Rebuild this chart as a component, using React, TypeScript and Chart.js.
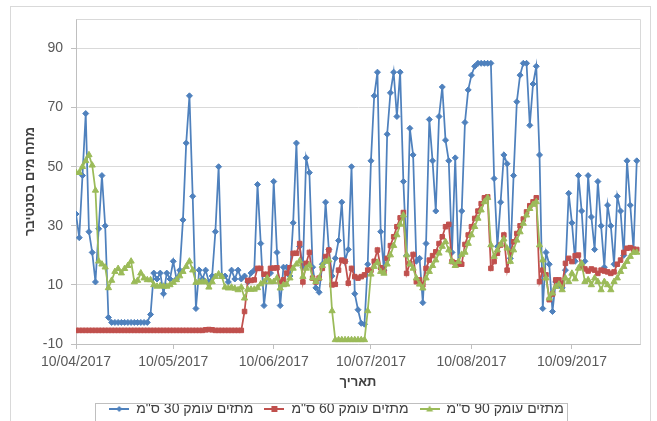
import React, { useEffect, useRef } from 'react';
import { Chart, registerables } from 'chart.js';

Chart.register(...registerables);

// ---- data ----
const START_DATE = '10/04/2017';
const AXIS_END_DATE = '01/10/2017';
const tickLabels = ['10/04/2017', '10/05/2017', '10/06/2017', '10/07/2017', '10/08/2017', '10/09/2017'];
const yTicks = [-10, 10, 30, 50, 70, 90];
const seriesNames = ['מתזים עומק 30 ס"מ', 'מתזים עומק 60 ס"מ', 'מתזים עומק 90 ס"מ'];
const xTitle = 'תאריך';
const yTitle = 'מתח מים בסנטיבר';

// daily readings starting 10/04/2017
const depth30 = [
  34, 26, 47, 68, 28, 21, 11, 29, 47, 30,
  -1, -2.7, -2.7, -2.7, -2.7, -2.7, -2.7, -2.7, -2.7, -2.7,
  -2.7, -2.7, -2.7, 0, 14, 12, 14, 7, 14, 12,
  18, 12, 15, 32, 58, 74, 40, 2, 15, 12,
  15, 11, 13, 28, 50, 13, 13, 11, 15, 12,
  15, 12, 13, 11, 14, 15, 44, 24, 3, 13,
  14, 45, 21, 3, 16, 16, 13, 31, 58, 23,
  16, 53, 48, 16, 9, 7.5, 17, 38, 22, 13,
  19, 25, 38, 18, 22, 50, 7, 1.6, -3, -3.3,
  17, 52, 74, 82, 28, 15, 61, 75, 82, 67,
  82, 45, 20, 63, 54, 18, 19, 4, 24, 66,
  52, 35, 67, 77, 59, 52, 21, 53, 17, 35,
  65, 76, 81, 84, 85, 85, 85, 85, 85, 46,
  23, 38, 54, 51, 19, 47, 72, 81, 85, 85,
  64, 78, 84, 54, 2, 21, 17, 1, 11, 10,
  9, 15, 41, 31, 18, 47, 35, 18, 47, 33,
  22, 45, 30, 16, 37, 30, 17, 40, 35, 20,
  52, 37, 22, 52,
];

const depth60 = [
  -5.4, -5.4, -5.4, -5.4, -5.4, -5.4, -5.4, -5.4, -5.4, -5.4,
  -5.4, -5.4, -5.4, -5.4, -5.4, -5.4, -5.4, -5.4, -5.4, -5.4,
  -5.4, -5.4, -5.4, -5.4, -5.4, -5.4, -5.4, -5.4, -5.4, -5.4,
  -5.4, -5.4, -5.4, -5.4, -5.4, -5.4, -5.4, -5.4, -5.4, -5.4,
  -5.2, -5.1, -5.2, -5.4, -5.4, -5.4, -5.4, -5.4, -5.4, -5.4,
  -5.4, -5.4, 1, 11.5, 11.5, 11.7, 15.6, 15.6, 13.6, 13.6,
  15.6, 15.7, 15.8, 11, 11.7, 14, 15.8, 20.7, 20.7, 24,
  11, 17.3, 21, 12.3, 11, 12.3, 15.6, 19.6, 21.8, 10,
  10.2, 15, 18.4, 18, 10.6, 15.6, 12.8, 12.3, 12.8, 13.4,
  15, 15, 18, 21.8, 15.8, 14.5, 19, 23.3, 26.3, 29.7,
  32.7, 34.5, 13.9, 17.3, 20.3, 11.1, 11.7, 10, 15.6, 18.4,
  19.9, 21.2, 24, 26.3, 29.7, 30.5, 17.9, 17.5, 17, 17,
  23.7, 26.9, 29.7, 32.5, 35, 37.5, 39.5, 39.8, 15.6, 17.9,
  20.7, 23.5, 26.9, 15, 21, 24.6, 27.4, 30, 32.3, 34.7,
  36.8, 38.1, 39.5, 11.1, 15, 13.4, 5, 6.9, 11.7, 11.7,
  10.2, 17.3, 19, 17.9, 19.9, 20.1, 16.2, 15.4, 14.7, 15.4,
  15, 13.9, 15, 14.7, 14.4, 13.9, 14.4, 17, 18.4, 21,
  22.4, 22.6, 22.1, 22,
];

const depth90 = [
  48, 48, 50, 52, 54, 50.5, 42, 18, 17, 16,
  9, 11.5, 14.5, 15.5, 14, 15.5, 16.5, 18, 11, 11.5,
  14, 12.3, 11.7, 11.7, 10, 9.5, 9.7, 9.5, 9.5, 10,
  10.8, 11.7, 13, 14.5, 16.2, 18, 15, 10.8, 11, 11,
  11, 9.2, 11, 12.8, 13.7, 12.8, 9.2, 8.9, 9.2, 8.8,
  8.3, 9.2, 5.5, 8.5, 8.5, 8.5, 9, 10.3, 11, 12.3,
  11, 11.1, 12.3, 8.9, 10, 10.2, 12.3, 15.6, 17, 18.1,
  12.8, 15.6, 16.7, 12.3, 11.1, 12.3, 16.5, 17.9, 18.4, 1.2,
  -8.6, -8.6, -8.6, -8.6, -8.6, -8.6, -8.6, -8.6, -8.6, -8.6,
  1.2, 13.6, 16.2, 17.6, 14.5, 13.9, 17, 20.1, 23.3, 26.9,
  30.5, 33.6, 20.1, 17, 15.6, 12.3, 10.2, 8.9, 12.3, 14.5,
  16.5, 18.4, 20.7, 23, 24.6, 21.8, 17.9, 16.5, 17.9, 20.3,
  21, 24, 26.9, 29.7, 32.5, 35.3, 38.1, 39.5, 23.5, 19.6,
  21.8, 23.7, 25.5, 22.4, 17.9, 21.8, 25.1, 27.9, 30.8, 33.6,
  35.8, 37.2, 38.1, 23.5, 18.4, 12.3, 5.5, 7.2, 9.4, 10.2,
  8.3, 12.3, 11.1, 13.9, 12, 15.6, 17.3, 11.1, 11.7, 10,
  12.3, 11.1, 8.3, 11.1, 10, 8.3, 11.1, 12.3, 14.5, 16.2,
  17.9, 19.6, 21, 21,
];

// ---- helpers ----
function toUTC(label: string): number {
  const [d, m, y] = label.split('/').map(Number);
  return Date.UTC(y, m - 1, d);
}
function dayOffset(label: string): number {
  return Math.round((toUTC(label) - toUTC(START_DATE)) / 86400000);
}
const tickDays = tickLabels.map(dayOffset);
const xMax = dayOffset(AXIS_END_DATE);

const COLORS = ['#4F81BD', '#C0504D', '#9BBB59'];
const STYLES = ['rectRot', 'rect', 'triangle'];
const FONT = "'Liberation Sans', Arial, sans-serif";

function makeLegendMarker(color: string, style: string): HTMLCanvasElement {
  const c = document.createElement('canvas');
  c.width = 20;
  c.height = 10;
  const ctx = c.getContext('2d')!;
  ctx.strokeStyle = color;
  ctx.fillStyle = color;
  ctx.lineWidth = 2;
  ctx.beginPath();
  ctx.moveTo(0, 5);
  ctx.lineTo(20, 5);
  ctx.stroke();
  ctx.beginPath();
  if (style === 'rectRot') {
    ctx.moveTo(10, 2);
    ctx.lineTo(13, 5);
    ctx.lineTo(10, 8);
    ctx.lineTo(7, 5);
  } else if (style === 'rect') {
    ctx.rect(7, 2, 6, 6);
  } else {
    ctx.moveTo(10, 1.5);
    ctx.lineTo(13.5, 7.5);
    ctx.lineTo(6.5, 7.5);
  }
  ctx.closePath();
  ctx.fill();
  return c;
}

const LEGEND_SHIFT = 23;

const framePlugin = {
  id: 'frames',
  afterLayout(chart: any) {
    const lg = chart.legend;
    if (lg) lg.left += LEGEND_SHIFT;
  },
  beforeDatasetsDraw(chart: any) {
    const { ctx, chartArea } = chart;
    ctx.save();
    ctx.strokeStyle = '#D9D9D9';
    ctx.lineWidth = 1;
    ctx.beginPath();
    const l = Math.round(chartArea.left) + 0.5;
    const r = Math.round(chartArea.right) + 0.5;
    const t = Math.round(chartArea.top) + 0.5;
    const b = Math.round(chartArea.bottom) + 0.5;
    ctx.moveTo(l, t);
    ctx.lineTo(r, t);
    ctx.lineTo(r, b);
    ctx.stroke();
    ctx.restore();
  },
  afterDraw(chart: any) {
    const { ctx } = chart;
    ctx.save();
    ctx.strokeStyle = '#D9D9D9';
    ctx.lineWidth = 1;
    ctx.strokeRect(10.5, 6.5, 640, 500);
    const lg = chart.legend;
    if (lg) {
      ctx.strokeStyle = '#BFBFBF';
      ctx.strokeRect(95.5, Math.round(lg.top + 12) + 0.5, 472, 60);
    }
    ctx.restore();
  },
};

export default function App() {
  const canvasRef = useRef<HTMLCanvasElement | null>(null);

  useEffect(() => {
    const canvas = canvasRef.current;
    if (!canvas) return;
    const allValues = [depth30, depth60, depth90];
    const markers = COLORS.map((c, i) => makeLegendMarker(c, STYLES[i]));
    const radii = [3, 3.2, 3.6];
    const chart = new Chart(canvas, {
      type: 'line',
      data: {
        datasets: allValues.map((vals, i) => ({
          label: seriesNames[i],
          data: vals.map((v, d) => ({ x: d, y: v })),
          borderColor: COLORS[i],
          backgroundColor: COLORS[i],
          borderWidth: 1.75,
          pointStyle: STYLES[i] as any,
          pointRadius: radii[i],
          pointBorderWidth: 1,
          pointBackgroundColor: COLORS[i],
          pointBorderColor: COLORS[i],
          tension: 0,
          fill: false,
          order: 3 - i,
        })),
      },
      options: {
        responsive: false,
        devicePixelRatio: 1,
        animation: false,
        events: [],
        layout: { padding: { left: 10, right: 17, top: 19, bottom: 14 } },
        plugins: {
          tooltip: { enabled: false },
          legend: {
            position: 'bottom',
            labels: {
              usePointStyle: true,
              pointStyleWidth: 20,
              padding: 11,
              color: '#404040',
              font: { family: FONT, size: 14 },
              sort: (a: any, b: any) => a.datasetIndex - b.datasetIndex,
              generateLabels: (ch: any) => {
                const items = (Chart.defaults.plugins.legend.labels as any).generateLabels(ch);
                return items.map((it: any) => ({ ...it, pointStyle: markers[it.datasetIndex] }));
              },
            },
          },
        },
        scales: {
          x: {
            type: 'linear',
            min: 0,
            max: xMax,
            afterBuildTicks: (axis: any) => {
              axis.ticks = tickDays.map((v) => ({ value: v }));
            },
            afterFit: (axis: any) => {
              axis.height = 47;
            },
            ticks: {
              autoSkip: false,
              maxRotation: 0,
              padding: 5,
              color: '#595959',
              font: { family: FONT, size: 14 },
              callback: (v: any) => {
                const idx = tickDays.indexOf(Number(v));
                return idx >= 0 ? tickLabels[idx] : '';
              },
            },
            grid: { drawOnChartArea: false, drawTicks: true, tickLength: 5, color: '#BFBFBF' },
            border: { color: '#BFBFBF' },
            title: {
              display: true,
              text: xTitle,
              color: '#404040',
              font: { family: FONT, size: 13, weight: 'bold' },
              padding: { top: 0, bottom: 1 },
            },
          },
          y: {
            type: 'linear',
            min: -10,
            max: 100,
            afterBuildTicks: (axis: any) => {
              axis.ticks = yTicks.map((v) => ({ value: v }));
            },
            afterFit: (axis: any) => {
              axis.width = 66;
            },
            ticks: {
              padding: 8,
              color: '#595959',
              font: { family: FONT, size: 14 },
            },
            grid: { color: '#D9D9D9', tickColor: '#BFBFBF', tickLength: 5 },
            border: { color: '#BFBFBF' },
            title: {
              display: true,
              text: yTitle,
              color: '#404040',
              font: { family: FONT, size: 13, weight: 'bold' },
              padding: { top: 13, bottom: 0 },
            },
          },
        },
      },
      plugins: [framePlugin],
    } as any);
    return () => chart.destroy();
  }, []);

  return (
    <div
      style={{
        position: 'fixed',
        left: 0,
        top: 0,
        width: 657,
        height: 421,
        overflow: 'hidden',
        background: '#ffffff',
      }}
    >
      <canvas ref={canvasRef} width={657} height={440} style={{ display: 'block' }} />
    </div>
  );
}
